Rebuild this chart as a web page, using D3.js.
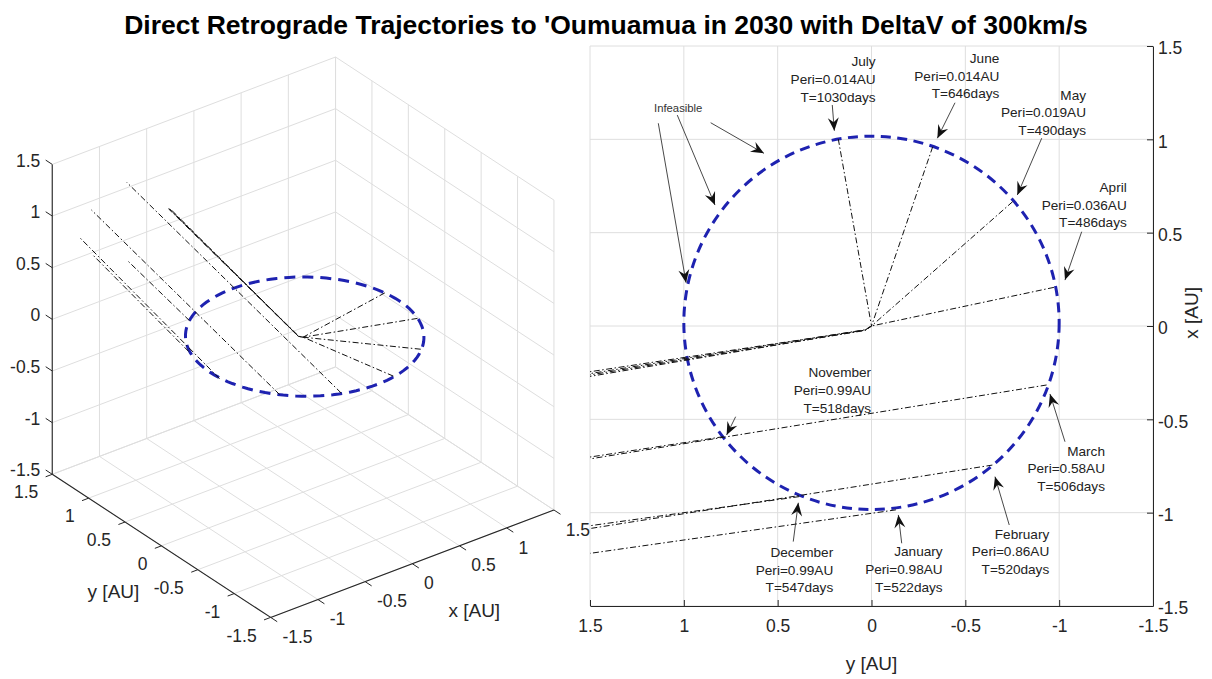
<!DOCTYPE html>
<html>
<head>
<meta charset="utf-8">
<script src="https://cdn.jsdelivr.net/npm/d3@7"></script>
<style>
  body { margin: 0; background: #fff; }
  svg { font-family: "Liberation Sans", Arial, sans-serif; }
</style>
</head>
<body>
<svg width="1212" height="679"></svg>
<script>
// ---- data (AU) ----
const months = ["January", "February", "March", "April", "May", "June", "July", "November", "December"];
const periAU = ["0.98", "0.86", "0.58", "0.036", "0.019", "0.014", "0.014", "0.99", "0.99"];
const flightDays = [522, 520, 506, 486, 490, 646, 1030, 518, 547];

// trajectory vertices: departure on orbit -> (sun pass) -> exit at y = 1.5
const trajX = [
  [-0.985, -1.218],
  [-0.745, -1.085],
  [-0.316, -0.712],
  [0.207, 0, -0.022, -0.245],
  [0.666, 0, -0.020, -0.255],
  [0.960, 0, -0.024, -0.262],
  [1.002, 0, -0.022, -0.270],
  [-0.593, -0.702],
  [-0.914, -1.070]
];
const trajY = [
  [-0.13, 1.5],
  [-0.644, 1.5],
  [-0.933, 1.5],
  [-0.972, 0, 0.034, 1.5],
  [-0.752, 0, 0.034, 1.5],
  [-0.326, 0, 0.034, 1.5],
  [0.177, 0, 0.034, 1.5],
  [0.79, 1.5],
  [0.385, 1.5]
];
const trajZ = [
  [0, 0.702],
  [0, 0.915],
  [0, 1.054],
  [0, 0, 0, 0.630],
  [0, 0, 0, 0.636],
  [0, 0, 0, 0.640],
  [0, 0, 0, 0.645],
  [0, 0.291],
  [0, 0.474]
];

const orbitRadius = 1.0;
const orbitOffsetX = 0.017;
const ticks = [-1.5, -1, -0.5, 0, 0.5, 1, 1.5];

// annotation layout, in the right panel's data units
const labelY = [-0.379, -0.947, -1.244, -1.36, -1.143, -0.681, -0.022, 0.002, 0.204];
const labelX = [-1.209, -1.114, -0.67, 0.743, 1.237, 1.434, 1.416, -0.25, -1.212];
const arrowFrom = [[-0.161, -1.164], [-0.734, -1.066], [-1.031, -0.62], [-1.12, 0.505], [-0.907, 1.006],
  [-0.445, 1.196], [0.209, 1.184], [0.724, -0.486], [0.417, -1.155]];
const arrowTo = [[-0.143, -1.012], [-0.658, -0.807], [-0.951, -0.364], [-1.031, 0.246], [-0.777, 0.702],
  [-0.351, 1.006], [0.198, 1.046], [0.772, -0.584], [0.39, -0.947]];
const infeasibleFrom = [[1.136, 1.086], [1.035, 1.13], [0.857, 1.089]];
const infeasibleTo = [[0.988, 0.232], [0.834, 0.648], [0.573, 0.925]];

const title = "Direct Retrograde Trajectories to 'Oumuamua in 2030 with DeltaV of 300km/s";

const axisColor = "#262626";
const gridColor = "#dedede";
const orbitColor = "#1e22b0";
const tickFont = 17.5;

const svg = d3.select("svg");

const defs = svg.append("defs");
defs.append("marker")
  .attr("id", "head")
  .attr("viewBox", "-14 -7 15 14")
  .attr("markerWidth", 15)
  .attr("markerHeight", 14)
  .attr("refX", 0)
  .attr("refY", 0)
  .attr("orient", "auto")
  .attr("markerUnits", "userSpaceOnUse")
  .append("path")
  .attr("d", "M0,0 L-13,-5.5 L-8.5,0 L-13,5.5 Z")
  .attr("fill", "#111");

svg.append("text")
  .attr("x", 606)
  .attr("y", 34)
  .attr("text-anchor", "middle")
  .attr("font-size", 26.5)
  .attr("font-weight", "bold")
  .attr("fill", "#000")
  .text(title);

const trajectories = months.map((m, i) => trajX[i].map((x, j) => ({ x: x, y: trajY[i][j], z: trajZ[i][j] })));

// ================= right panel: top view =================
const hScale = d3.scaleLinear().domain([1.5, -1.5]).range([590, 1153]);
const vScale = d3.scaleLinear().domain([1.5, -1.5]).range([46, 606]);

const right = svg.append("g");

right.selectAll(".gv").data(ticks).join("line")
  .attr("x1", d => hScale(d)).attr("x2", d => hScale(d))
  .attr("y1", vScale(1.5)).attr("y2", vScale(-1.5))
  .attr("stroke", gridColor);
right.selectAll(".gh").data(ticks).join("line")
  .attr("y1", d => vScale(d)).attr("y2", d => vScale(d))
  .attr("x1", hScale(1.5)).attr("x2", hScale(-1.5))
  .attr("stroke", gridColor);

const fmt = d => String(d);

right.append("g")
  .attr("transform", `translate(0,${vScale(-1.5)})`)
  .call(d3.axisBottom(hScale).tickValues(ticks).tickFormat(fmt).tickSizeInner(-6).tickSizeOuter(0).tickPadding(14))
  .attr("font-family", null)
  .attr("font-size", tickFont)
  .call(g => g.select(".domain").attr("stroke", axisColor))
  .call(g => g.selectAll(".tick line").attr("stroke", axisColor))
  .call(g => g.selectAll(".tick text").attr("fill", axisColor));

right.append("g")
  .attr("transform", `translate(${hScale(-1.5)},0)`)
  .call(d3.axisRight(vScale).tickValues(ticks).tickFormat(fmt).tickSizeInner(-6).tickSizeOuter(0).tickPadding(5))
  .attr("font-family", null)
  .attr("font-size", tickFont)
  .call(g => g.select(".domain").attr("stroke", axisColor))
  .call(g => g.selectAll(".tick line").attr("stroke", axisColor))
  .call(g => g.selectAll(".tick text").attr("fill", axisColor).attr("dy", "0.45em"));

right.append("text")
  .attr("x", hScale(0)).attr("y", 670)
  .attr("text-anchor", "middle")
  .attr("font-size", 19)
  .attr("fill", axisColor)
  .text("y [AU]");

right.append("text")
  .attr("transform", `translate(1198,${vScale(0.07)}) rotate(-90)`)
  .attr("text-anchor", "middle")
  .attr("font-size", 19)
  .attr("fill", axisColor)
  .text("x [AU]");

// Earth orbit
right.append("ellipse")
  .attr("cx", hScale(0))
  .attr("cy", vScale(orbitOffsetX))
  .attr("rx", Math.abs(hScale(orbitRadius) - hScale(0)))
  .attr("ry", Math.abs(vScale(orbitRadius) - vScale(0)))
  .attr("fill", "none")
  .attr("stroke", orbitColor)
  .attr("stroke-width", 3)
  .attr("stroke-dasharray", "10,6.5");

const line2d = d3.line().x(d => hScale(d.y)).y(d => vScale(d.x));

right.selectAll(".traj").data(trajectories).join("path")
  .attr("d", line2d)
  .attr("fill", "none")
  .attr("stroke", "#111")
  .attr("stroke-width", 1)
  .attr("stroke-dasharray", "6,2.5,1.5,2.5");

// arrows
const allFrom = arrowFrom.concat(infeasibleFrom);
const allTo = arrowTo.concat(infeasibleTo);
right.selectAll(".arrow").data(allFrom).join("line")
  .attr("x1", d => hScale(d[0])).attr("y1", d => vScale(d[1]))
  .attr("x2", (d, i) => hScale(allTo[i][0]))
  .attr("y2", (d, i) => vScale(allTo[i][1]))
  .attr("stroke", "#333")
  .attr("stroke-width", 0.9)
  .attr("marker-end", "url(#head)");

const labels = right.selectAll(".mlabel").data(months).join("text")
  .attr("text-anchor", "end")
  .attr("font-size", 13.6)
  .attr("fill", "#222")
  .attr("transform", (d, i) => `translate(${hScale(labelY[i])},${vScale(labelX[i]) + 4.8})`);
labels.append("tspan").attr("x", 0).attr("y", 0).text(d => d);
labels.append("tspan").attr("x", 0).attr("y", 17.6).text((d, i) => `Peri=${periAU[i]}AU`);
labels.append("tspan").attr("x", 0).attr("y", 35.2).text((d, i) => `T=${flightDays[i]}days`);

right.append("text")
  .attr("x", hScale(1.03)).attr("y", vScale(1.166) + 4)
  .attr("text-anchor", "middle")
  .attr("font-size", 11.3)
  .attr("fill", "#333")
  .text("Infeasible");

// ================= left panel: 3D view =================
const origin3 = [303.1, 337.2];
const x3 = d3.scaleLinear().domain([-1.5, 1.5]).range([[-141.65, 53.7], [141.65, -53.7]]);
const y3 = d3.scaleLinear().domain([-1.5, 1.5]).range([[109.2, 71.55], [-109.2, -71.55]]);
const z3 = d3.scaleLinear().domain([-1.5, 1.5]).range([[0, 154.95], [0, -154.95]]);
function proj(p) {
  const a = x3(p.x), b = y3(p.y), c = z3(p.z);
  return [origin3[0] + a[0] + b[0] + c[0], origin3[1] + a[1] + b[1] + c[1]];
}
const P = (x, y, z) => proj({ x, y, z });

const left = svg.append("g");

function seg(g, p, q, color, w) {
  g.append("line")
    .attr("x1", p[0]).attr("y1", p[1])
    .attr("x2", q[0]).attr("y2", q[1])
    .attr("stroke", color).attr("stroke-width", w || 1);
}

// grids: floor z=-1.5, wall y=1.5, wall x=1.5
ticks.forEach(v => {
  seg(left, P(v, -1.5, -1.5), P(v, 1.5, -1.5), gridColor);
  seg(left, P(-1.5, v, -1.5), P(1.5, v, -1.5), gridColor);
  seg(left, P(v, 1.5, -1.5), P(v, 1.5, 1.5), gridColor);
  seg(left, P(-1.5, 1.5, v), P(1.5, 1.5, v), gridColor);
  seg(left, P(1.5, v, -1.5), P(1.5, v, 1.5), gridColor);
  seg(left, P(1.5, -1.5, v), P(1.5, 1.5, v), gridColor);
});

// orbit in the ecliptic plane
const orbitPts = d3.range(0, 361, 3).map(a => ({
  x: orbitOffsetX + orbitRadius * Math.cos(a * Math.PI / 180),
  y: orbitRadius * Math.sin(a * Math.PI / 180),
  z: 0
}));
const line3d = d3.line().x(d => proj(d)[0]).y(d => proj(d)[1]);

left.append("path")
  .attr("d", line3d(orbitPts))
  .attr("fill", "none")
  .attr("stroke", orbitColor)
  .attr("stroke-width", 3)
  .attr("stroke-dasharray", "11,7");

left.selectAll(".traj3").data(trajectories).join("path")
  .attr("d", line3d)
  .attr("fill", "none")
  .attr("stroke", "#111")
  .attr("stroke-width", 1)
  .attr("stroke-dasharray", "6,2.5,1.5,2.5");

// axes
seg(left, P(-1.5, 1.5, -1.5), P(-1.5, 1.5, 1.5), axisColor, 1.1);
seg(left, P(-1.5, 1.5, -1.5), P(-1.5, -1.5, -1.5), axisColor, 1.1);
seg(left, P(-1.5, -1.5, -1.5), P(1.5, -1.5, -1.5), axisColor, 1.1);

ticks.forEach(v => {
  // z axis
  seg(left, P(-1.5, 1.5, v), P(-1.5, 1.59, v), axisColor);
  const pz = P(-1.5, 1.5, v);
  left.append("text").attr("x", pz[0] - 12).attr("y", pz[1] - 4).attr("dy", "0.35em")
    .attr("text-anchor", "end").attr("font-size", tickFont).attr("fill", axisColor).text(fmt(v));
  // y axis
  seg(left, P(-1.5, v, -1.5), P(-1.57, v, -1.5), axisColor);
  const py = P(-1.5, v, -1.5);
  left.append("text").attr("x", py[0] - 14).attr("y", py[1] + 18).attr("dy", "0.35em")
    .attr("text-anchor", "end").attr("font-size", tickFont).attr("fill", axisColor).text(fmt(v));
  // x axis
  seg(left, P(v, -1.5, -1.5), P(v, -1.59, -1.5), axisColor);
  const px = P(v, -1.5, -1.5);
  left.append("text").attr("x", px[0] + 11.8).attr("y", px[1] + 19.5).attr("dy", "0.35em")
    .attr("text-anchor", "start").attr("font-size", tickFont).attr("fill", axisColor).text(fmt(v));
});

const yl = P(-1.5, 0, -1.5);
left.append("text").attr("x", yl[0] - 48).attr("y", yl[1] + 45).attr("dy", "0.35em")
  .attr("text-anchor", "middle").attr("font-size", 19).attr("fill", axisColor).text("y [AU]");
const xl = P(0, -1.5, -1.5);
left.append("text").attr("x", xl[0] + 62).attr("y", xl[1] + 47).attr("dy", "0.35em")
  .attr("text-anchor", "middle").attr("font-size", 19).attr("fill", axisColor).text("x [AU]");
</script>
</body>
</html>
